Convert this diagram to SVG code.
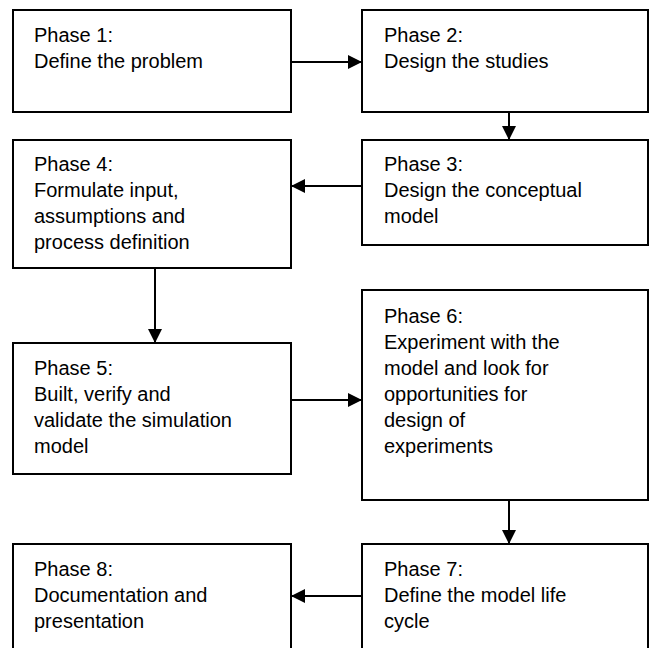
<svg xmlns="http://www.w3.org/2000/svg" width="650" height="648" viewBox="0 0 650 648">
<defs>
<marker id="ah" markerWidth="14" markerHeight="14" refX="14" refY="7" orient="auto" markerUnits="userSpaceOnUse">
<path d="M0,0 L14,7 L0,14 Z" fill="#000"/>
</marker>
<style>
.box{fill:#fff;stroke:#000;stroke-width:2}
.t{font-family:"Liberation Sans",Arial,sans-serif;font-size:20px;fill:#000}
.c{stroke:#000;stroke-width:2;fill:none;marker-end:url(#ah)}
</style>
</defs>
<rect width="650" height="648" fill="#fff"/>
<g id="connectors">
<line class="c" x1="291" y1="62" x2="362" y2="62"/>
<line class="c" x1="509" y1="112" x2="509" y2="140"/>
<line class="c" x1="362" y1="186" x2="291" y2="186"/>
<line class="c" x1="155" y1="268" x2="155" y2="343"/>
<line class="c" x1="291" y1="400" x2="362" y2="400"/>
<line class="c" x1="509" y1="500" x2="509" y2="544"/>
<line class="c" x1="362" y1="596" x2="291" y2="596"/>
</g>
<g id="phase1">
<rect class="box" x="13" y="10" width="278" height="102"/>
<text class="t" x="34" y="42">Phase 1:</text>
<text class="t" x="34" y="68">Define the problem</text>
</g>
<g id="phase2">
<rect class="box" x="362" y="10" width="286" height="102"/>
<text class="t" x="384" y="42">Phase 2:</text>
<text class="t" x="384" y="68">Design the studies</text>
</g>
<g id="phase3">
<rect class="box" x="362" y="140" width="286" height="105"/>
<text class="t" x="384" y="171">Phase 3:</text>
<text class="t" x="384" y="197">Design the conceptual</text>
<text class="t" x="384" y="223">model</text>
</g>
<g id="phase4">
<rect class="box" x="13" y="140" width="278" height="128"/>
<text class="t" x="34" y="171">Phase 4:</text>
<text class="t" x="34" y="197">Formulate input,</text>
<text class="t" x="34" y="223">assumptions and</text>
<text class="t" x="34" y="249">process definition</text>
</g>
<g id="phase5">
<rect class="box" x="13" y="343" width="278" height="131"/>
<text class="t" x="34" y="375">Phase 5:</text>
<text class="t" x="34" y="401">Built, verify and</text>
<text class="t" x="34" y="427">validate the simulation</text>
<text class="t" x="34" y="453">model</text>
</g>
<g id="phase6">
<rect class="box" x="362" y="290" width="286" height="210"/>
<text class="t" x="384" y="323">Phase 6:</text>
<text class="t" x="384" y="349">Experiment with the</text>
<text class="t" x="384" y="375">model and look for</text>
<text class="t" x="384" y="401">opportunities for</text>
<text class="t" x="384" y="427">design of</text>
<text class="t" x="384" y="453">experiments</text>
</g>
<g id="phase7">
<rect class="box" x="362" y="544" width="286" height="112"/>
<text class="t" x="384" y="576">Phase 7:</text>
<text class="t" x="384" y="602">Define the model life</text>
<text class="t" x="384" y="628">cycle</text>
</g>
<g id="phase8">
<rect class="box" x="13" y="544" width="278" height="112"/>
<text class="t" x="34" y="576">Phase 8:</text>
<text class="t" x="34" y="602">Documentation and</text>
<text class="t" x="34" y="628">presentation</text>
</g>
</svg>
